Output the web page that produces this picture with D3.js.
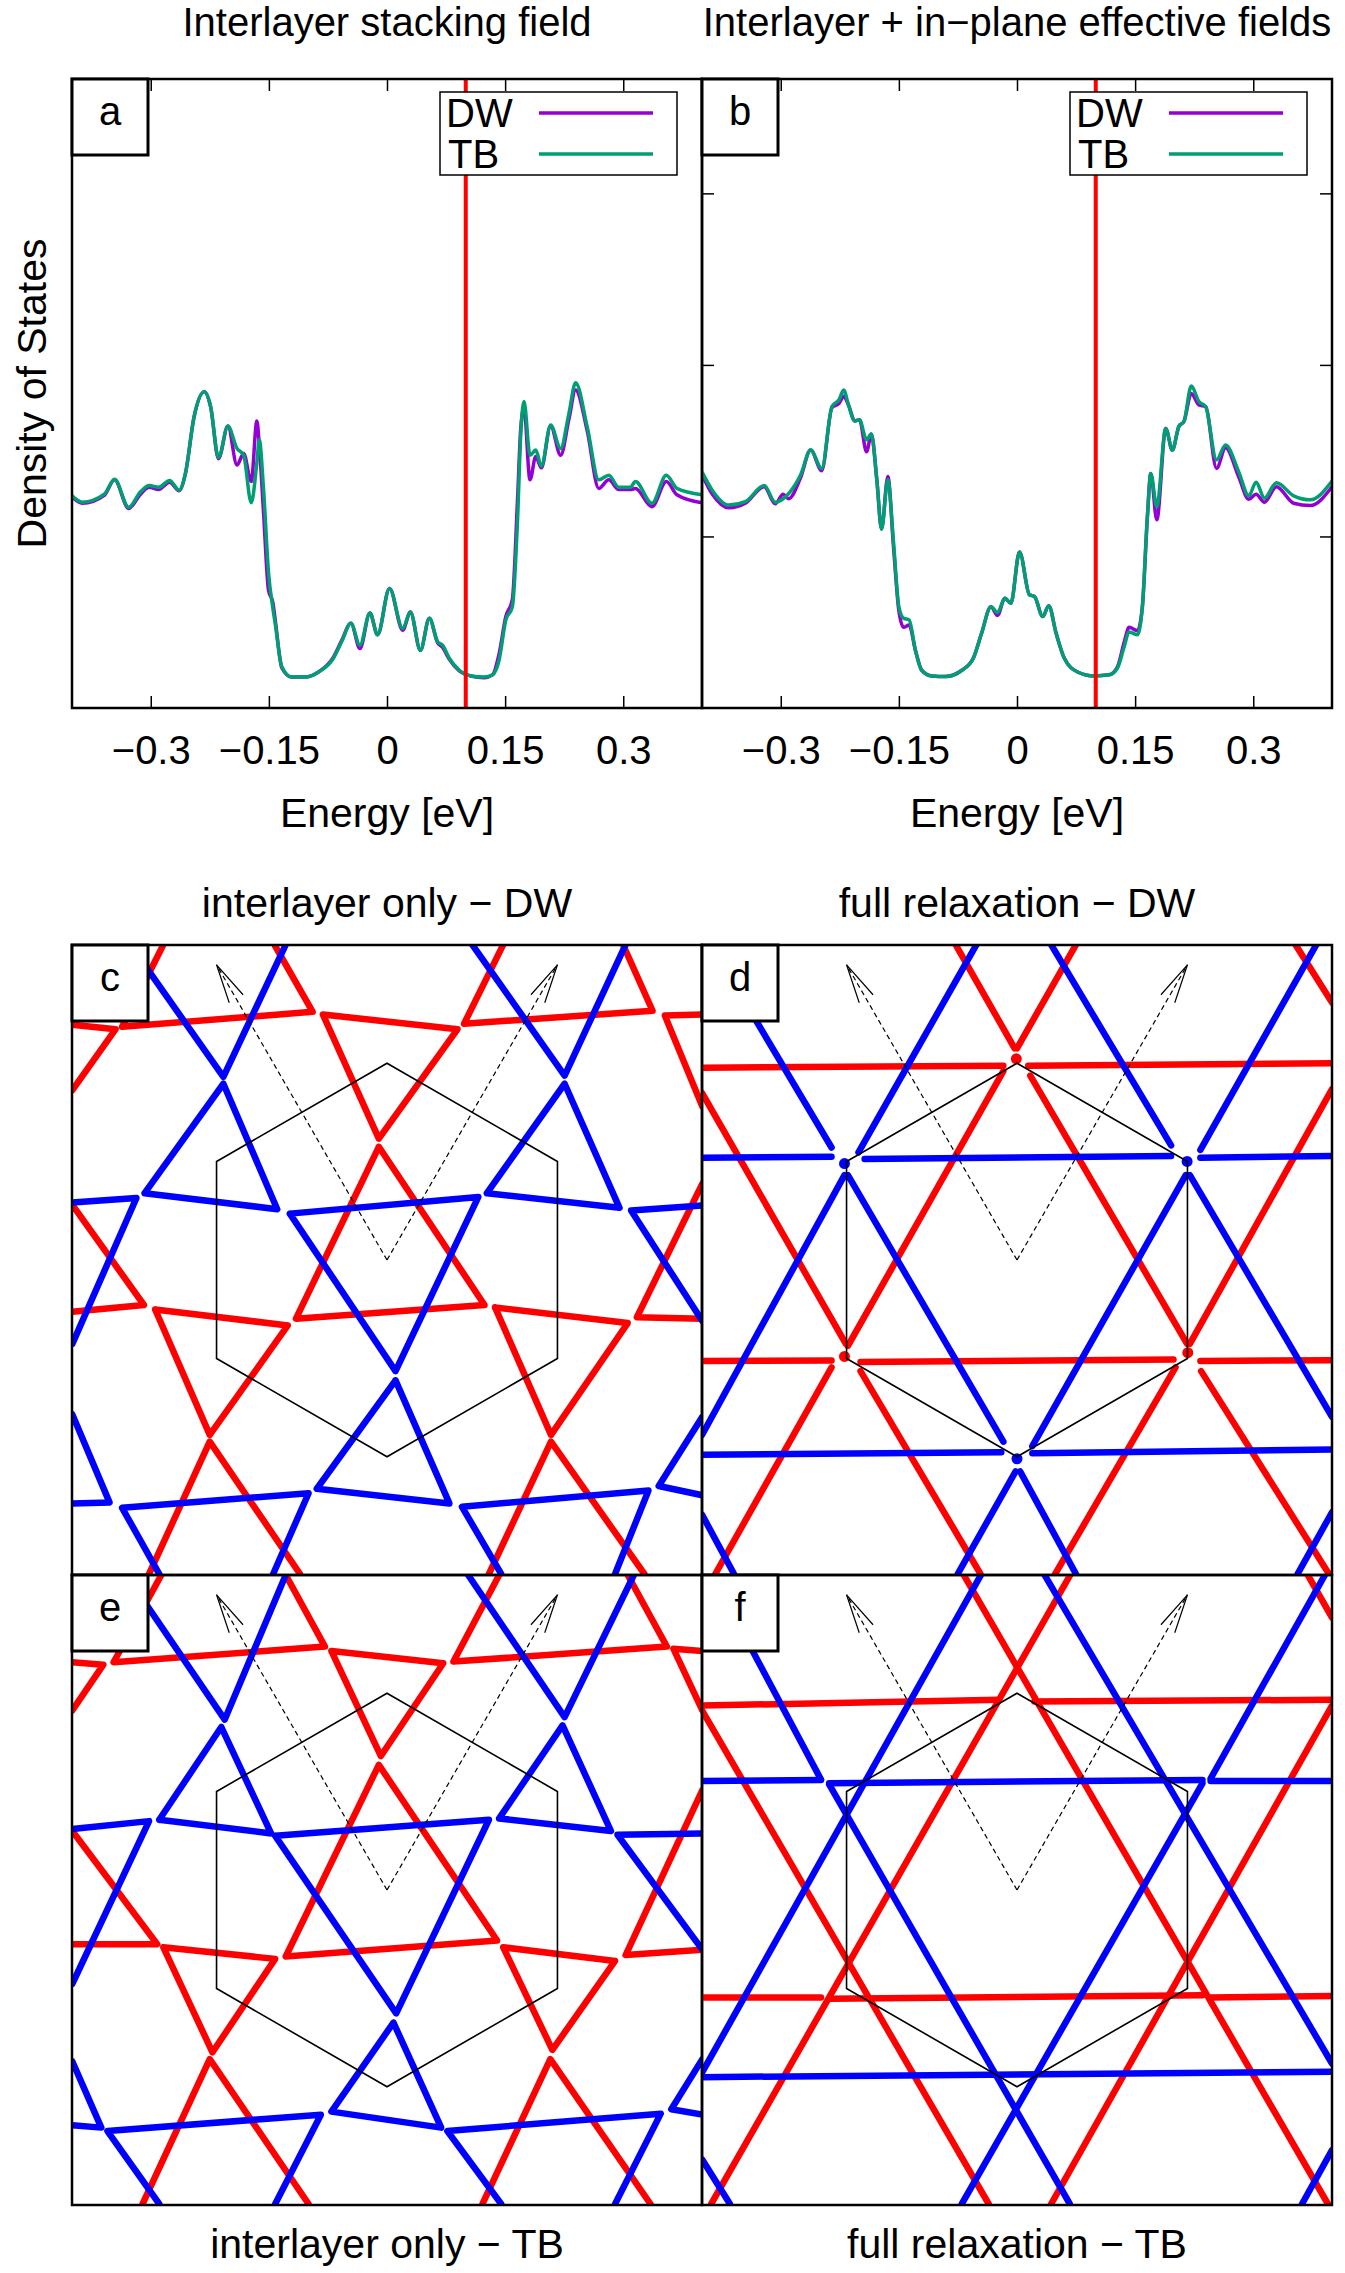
<!DOCTYPE html>
<html>
<head>
<meta charset="utf-8">
<script src="https://cdn.jsdelivr.net/npm/d3@7"></script>
<style>
  body { margin: 0; background: #fff; }
  svg { display: block; }
</style>
</head>
<body>
<div id="figure"></div>
<script>

///////////////////////////////////////////////////////////////////
// Data: density of states (arbitrary units) vs energy [eV]
///////////////////////////////////////////////////////////////////

const energyTicks = [-0.3, -0.15, 0, 0.15, 0.3];
const dosTicks = [3, 6, 9];
const fermiEnergy = 0.1;

// panel a: interlayer stacking field
const energyA = [-0.400, -0.387, -0.359, -0.346, -0.328, -0.313, -0.302, -0.290, -0.276, -0.264,
                 -0.256, -0.245, -0.232, -0.224, -0.214, -0.202, -0.1905, -0.182, -0.1724, -0.1652,
                 -0.1622, -0.1567, -0.1504, -0.145, -0.142, -0.1335, -0.121, -0.104, -0.087, -0.068,
                 -0.0576, -0.0458, -0.0344, -0.0217, -0.012, 0.0032, 0.020, 0.0297, 0.0424, 0.0538,
                 0.0643, 0.0706, 0.0791, 0.0918, 0.1066, 0.1234, 0.134, 0.1424, 0.1509, 0.1592,
                 0.1656, 0.1699, 0.174, 0.1816, 0.1889, 0.196, 0.2078, 0.2205, 0.231, 0.2395,
                 0.2542, 0.269, 0.2816, 0.2943, 0.3091, 0.3154, 0.3365, 0.3547, 0.3681, 0.400];
const tbA = [3.71, 3.60, 3.74, 4.00, 3.51, 3.78, 3.89, 3.86, 3.98, 3.81,
             4.10, 5.09, 5.53, 5.27, 4.38, 4.93, 4.54, 4.42, 3.59, 4.30,
             4.69, 3.81, 2.36, 1.75, 1.48, 0.72, 0.54, 0.54, 0.63, 0.87,
             1.16, 1.48, 1.10, 1.66, 1.28, 2.09, 1.39, 1.68, 1.01, 1.57,
             1.16, 1.10, 0.87, 0.66, 0.56, 0.54, 0.58, 0.84, 1.54, 1.77,
             3.23, 4.80, 5.36, 4.42, 4.51, 4.23, 4.95, 4.54, 5.15, 5.69,
             4.92, 3.99, 4.07, 3.86, 3.86, 3.96, 3.58, 4.07, 3.84, 3.73];
const dwA = [3.69, 3.58, 3.72, 3.99, 3.49, 3.74, 3.86, 3.82, 3.95, 3.80,
             4.10, 5.09, 5.53, 5.27, 4.36, 4.93, 4.25, 4.45, 3.96, 5.02,
             4.60, 3.40, 2.05, 1.85, 1.55, 0.70, 0.54, 0.54, 0.63, 0.89,
             1.18, 1.48, 1.04, 1.66, 1.28, 2.09, 1.36, 1.68, 1.01, 1.57,
             1.14, 1.06, 0.85, 0.65, 0.56, 0.53, 0.58, 0.95, 1.60, 1.90,
             3.60, 4.90, 5.25, 3.99, 4.40, 4.20, 4.93, 4.42, 5.05, 5.56,
             4.85, 3.84, 3.99, 3.82, 3.82, 3.84, 3.52, 3.96, 3.73, 3.59];

// panel b: interlayer + in-plane effective fields
const energyB = [-0.400, -0.387, -0.366, -0.345, -0.321, -0.307, -0.297, -0.290, -0.275, -0.262,
                 -0.248, -0.235, -0.226, -0.220, -0.214, -0.206, -0.200, -0.191, -0.185, -0.178,
                 -0.172, -0.164, -0.157, -0.150, -0.144, -0.137, -0.129, -0.121, -0.108, -0.091,
                 -0.070, -0.0555, -0.0449, -0.0331, -0.0247, -0.0154, -0.0078, 0.0032, 0.0158, 0.0222,
                 0.0327, 0.0403, 0.0496, 0.0601, 0.077, 0.0981, 0.1171, 0.1276, 0.1361, 0.1424,
                 0.1529, 0.1592, 0.1656, 0.1699, 0.1775, 0.1889, 0.1972, 0.2057, 0.212, 0.2213,
                 0.231, 0.2395, 0.2534, 0.2648, 0.2816, 0.2943, 0.3036, 0.3142, 0.3294, 0.3513,
                 0.3724, 0.400];
const tbB = [4.13, 3.81, 3.55, 3.61, 3.89, 3.60, 3.66, 3.75, 4.07, 4.51,
             4.19, 5.27, 5.39, 5.56, 5.30, 5.02, 5.04, 4.69, 4.79, 3.99,
             3.13, 3.99, 2.94, 1.77, 1.57, 1.54, 1.01, 0.66, 0.56, 0.55,
             0.66, 0.87, 1.31, 1.77, 1.67, 1.92, 1.83, 2.73, 1.98, 1.95,
             1.60, 1.79, 1.31, 0.87, 0.63, 0.56, 0.58, 0.70, 1.07, 1.33,
             1.28, 1.77, 3.35, 4.10, 3.52, 4.89, 4.51, 4.93, 5.01, 5.63,
             5.36, 5.27, 4.34, 4.60, 4.13, 3.71, 3.95, 3.67, 3.94, 3.71,
             3.64, 3.97];
const dwB = [4.08, 3.74, 3.50, 3.58, 3.87, 3.57, 3.74, 3.66, 4.02, 4.51,
             4.15, 5.25, 5.33, 5.45, 5.30, 5.02, 5.04, 4.48, 4.79, 3.99,
             3.13, 4.05, 2.85, 1.70, 1.41, 1.45, 1.01, 0.66, 0.56, 0.55,
             0.66, 0.87, 1.31, 1.77, 1.62, 1.92, 1.83, 2.73, 1.98, 1.95,
             1.60, 1.79, 1.31, 0.87, 0.63, 0.56, 0.58, 0.72, 1.15, 1.41,
             1.35, 1.77, 3.35, 4.10, 3.29, 4.89, 4.51, 4.93, 5.01, 5.50,
             5.30, 5.27, 4.19, 4.55, 4.04, 3.65, 3.74, 3.60, 3.87, 3.58,
             3.54, 3.87];

///////////////////////////////////////////////////////////////////
// Data: domain wall maps, in moire lattice units (cell centre = 0)
///////////////////////////////////////////////////////////////////

const latticeVectors = [[-0.5, 0.866], [0.5, 0.866]];
const cellCorners = [[0, 0.577], [0.5, 0.289], [0.5, -0.289], [0, -0.577], [-0.5, -0.289], [-0.5, 0.289]];

// c: interlayer only - DW
const redWallsC = [
  [[-0.923, 0.690], [-0.796, 0.677], [-0.923, 0.498]],
  [[-0.658, 0.921], [-0.777, 0.684], [-0.218, 0.728], [-0.328, 0.921]],
  [[-0.188, 0.720], [0.207, 0.677], [-0.024, 0.356], [-0.188, 0.720]],
  [[-0.024, 0.332], [-0.267, -0.172], [0.286, -0.132], [-0.024, 0.332]],
  [[0.341, 0.925], [0.226, 0.693], [0.779, 0.731], [0.694, 0.921]],
  [[0.925, 0.720], [0.815, 0.717], [0.925, 0.450]],
  [[-0.923, 0.162], [-0.713, -0.132], [-0.923, -0.152]],
  [[-0.680, -0.145], [-0.291, -0.192], [-0.520, -0.513], [-0.680, -0.145]],
  [[-0.698, -0.921], [-0.520, -0.533], [-0.255, -0.921]],
  [[0.317, -0.139], [0.706, -0.185], [0.481, -0.513], [0.317, -0.139]],
  [[0.299, -0.921], [0.481, -0.533], [0.755, -0.921]],
  [[0.925, 0.224], [0.733, -0.168], [0.925, -0.172]]
];
const blueWallsC = [
  [[-0.753, 0.925], [-0.480, 0.537], [-0.297, 0.925]],
  [[-0.711, 0.196], [-0.480, 0.517], [-0.322, 0.149], [-0.711, 0.196]],
  [[-0.285, 0.136], [0.268, 0.185], [0.025, -0.326], [-0.285, 0.136]],
  [[0.025, -0.353], [-0.206, -0.671], [0.183, -0.714], [0.025, -0.353]],
  [[0.250, 0.925], [0.521, 0.541], [0.700, 0.925]],
  [[0.293, 0.196], [0.521, 0.517], [0.682, 0.153], [0.293, 0.196]],
  [[0.925, 0.160], [0.716, 0.145], [0.925, -0.179]],
  [[-0.923, 0.169], [-0.735, 0.182], [-0.923, -0.246]],
  [[-0.923, -0.453], [-0.814, -0.711], [-0.923, -0.714]],
  [[-0.668, -0.921], [-0.777, -0.727], [-0.230, -0.684], [-0.334, -0.921]],
  [[0.335, -0.921], [0.220, -0.724], [0.767, -0.676], [0.669, -0.921]],
  [[0.925, -0.460], [0.797, -0.663], [0.925, -0.690]]
];

// d: full relaxation - DW
const redWallsD = [
  [[-0.924, 0.564], [-0.040, 0.570]],
  [[0.033, 0.570], [0.924, 0.577]],
  [[-0.924, -0.296], [-0.544, -0.295]],
  [[-0.459, -0.299], [0.459, -0.292]],
  [[0.538, -0.296], [0.924, -0.294]],
  [[-0.180, 0.925], [-0.007, 0.621]],
  [[0.039, 0.541], [0.499, -0.246]],
  [[0.540, -0.326], [0.915, -0.921]],
  [[-0.924, 0.490], [-0.502, -0.246]],
  [[-0.459, -0.326], [-0.107, -0.921]],
  [[0.817, 0.925], [0.924, 0.755]],
  [[0.173, 0.925], [0.000, 0.621]],
  [[-0.040, 0.554], [-0.496, -0.252]],
  [[-0.544, -0.315], [-0.885, -0.921]],
  [[0.924, 0.501], [0.507, -0.246]],
  [[0.465, -0.315], [0.112, -0.921]]
];
const blueWallsD = [
  [[-0.924, 0.300], [-0.544, 0.303]],
  [[-0.447, 0.296], [0.452, 0.305]],
  [[0.538, 0.300], [0.924, 0.305]],
  [[-0.924, -0.571], [-0.046, -0.564]],
  [[0.045, -0.567], [0.924, -0.556]],
  [[-0.898, 0.925], [-0.544, 0.330]],
  [[-0.496, 0.249], [-0.040, -0.533]],
  [[0.009, -0.620], [0.173, -0.921]],
  [[0.100, 0.925], [0.452, 0.336]],
  [[0.507, 0.249], [0.924, -0.460]],
  [[-0.924, -0.747], [-0.830, -0.921]],
  [[-0.119, 0.925], [-0.465, 0.316]],
  [[-0.506, 0.249], [-0.924, -0.513]],
  [[0.878, 0.925], [0.538, 0.323]],
  [[0.495, 0.249], [0.045, -0.546]],
  [[-0.004, -0.620], [-0.174, -0.921]],
  [[0.924, -0.740], [0.823, -0.921]]
];
const redNodesD = [[-0.002, 0.590], [-0.506, -0.283], [0.501, -0.272]];
const blueNodesD = [[-0.506, 0.283], [0.499, 0.289], [0.000, -0.583]];

// e: interlayer only - TB
const redWallsE = [
  [[-0.923, 0.668], [-0.832, 0.661], [-0.923, 0.527]],
  [[-0.662, 0.924], [-0.802, 0.668], [-0.182, 0.714], [-0.297, 0.924]],
  [[-0.163, 0.701], [0.165, 0.665], [-0.018, 0.393], [-0.163, 0.701]],
  [[-0.024, 0.367], [-0.297, -0.195], [0.323, -0.148], [-0.024, 0.367]],
  [[0.329, 0.924], [0.195, 0.670], [0.821, 0.714], [0.706, 0.924]],
  [[0.925, 0.701], [0.840, 0.708], [0.925, 0.527]],
  [[-0.923, 0.173], [-0.674, -0.159], [-0.923, -0.159]],
  [[-0.656, -0.168], [-0.328, -0.202], [-0.512, -0.476], [-0.656, -0.168]],
  [[-0.717, -0.921], [-0.520, -0.496], [-0.230, -0.921]],
  [[0.341, -0.168], [0.669, -0.208], [0.485, -0.469], [0.341, -0.168]],
  [[0.280, -0.921], [0.479, -0.496], [0.773, -0.921]],
  [[0.925, 0.293], [0.700, -0.191], [0.925, -0.175]]
];
const blueWallsE = [
  [[-0.765, 0.924], [-0.476, 0.500], [-0.297, 0.924]],
  [[-0.668, 0.206], [-0.486, 0.478], [-0.340, 0.166], [-0.668, 0.206]],
  [[-0.923, 0.179], [-0.698, 0.202], [-0.923, -0.275]],
  [[-0.328, 0.159], [0.299, 0.206], [0.027, -0.362], [-0.328, 0.159]],
  [[0.019, -0.389], [-0.163, -0.650], [0.159, -0.697], [0.019, -0.389]],
  [[0.238, 0.924], [0.521, 0.507], [0.724, 0.924]],
  [[0.329, 0.210], [0.515, 0.483], [0.657, 0.173], [0.329, 0.210]],
  [[0.925, 0.166], [0.676, 0.162], [0.925, -0.175]],
  [[-0.923, -0.503], [-0.838, -0.697], [-0.923, -0.690]],
  [[-0.668, -0.921], [-0.820, -0.707], [-0.194, -0.659], [-0.328, -0.921]],
  [[0.335, -0.921], [0.177, -0.707], [0.803, -0.656], [0.669, -0.921]],
  [[0.925, -0.496], [0.834, -0.643], [0.925, -0.659]]
];

// f: full relaxation - TB
const redWallsF = [
  [[-0.924, 0.541], [-0.052, 0.558]],
  [[0.051, 0.553], [0.924, 0.558]],
  [[-0.924, -0.315], [-0.575, -0.315]],
  [[-0.551, -0.319], [0.544, -0.309]],
  [[0.568, -0.315], [0.924, -0.311]],
  [[-0.924, 0.527], [-0.083, -0.921]],
  [[-0.155, 0.922], [0.912, -0.921]],
  [[0.854, 0.922], [0.924, 0.799]],
  [[0.155, 0.922], [-0.897, -0.921]],
  [[0.924, 0.541], [0.100, -0.921]]
];
const blueWallsF = [
  [[-0.924, 0.320], [-0.575, 0.323]],
  [[-0.551, 0.313], [0.544, 0.323]],
  [[0.568, 0.320], [0.924, 0.320]],
  [[-0.924, -0.549], [0.924, -0.533]],
  [[-0.893, 0.922], [-0.575, 0.324]],
  [[-0.551, 0.310], [0.155, -0.921]],
  [[0.082, 0.922], [0.924, -0.509]],
  [[-0.924, -0.790], [-0.842, -0.921]],
  [[-0.924, -0.536], [-0.107, 0.922]],
  [[0.902, 0.922], [0.568, 0.327]],
  [[0.544, 0.313], [-0.162, -0.921]],
  [[0.924, -0.763], [0.836, -0.921]]
];

///////////////////////////////////////////////////////////////////
// Canvas
///////////////////////////////////////////////////////////////////

const width = 1345, height = 2273;
const FONT = '"Liberation Sans", Arial, Helvetica, sans-serif';
const panelSize = 630;

const svg = d3.select("#figure")
    .append("svg")
    .attr("width", width)
    .attr("height", height)
    .style("font-family", FONT);

// small square letter box in a panel corner
function labelBox(g, left, top, letter) {
    g.append("rect")
        .attr("x", left).attr("y", top)
        .attr("width", 76).attr("height", 76)
        .attr("fill", "#fff")
        .attr("stroke", "#000")
        .attr("stroke-width", 3);
    g.append("text")
        .attr("x", left + 38).attr("y", top + 46)
        .attr("text-anchor", "middle")
        .style("font-size", "40px")
        .text(letter);
}

///////////////////////////////////////////////////////////////////
// DOS panels (a, b)
///////////////////////////////////////////////////////////////////

const dosTop = 79, dosBottom = 708;
const minusFormat = d => d < 0 ? "\u2212" + Math.abs(d) : String(d);

const dosPanels = [
    { left: 72, energy: energyA, dw: dwA, tb: tbA, label: "a", title: "Interlayer stacking field", yTicks: false },
    { left: 702, energy: energyB, dw: dwB, tb: tbB, label: "b", title: "Interlayer + in\u2212plane effective fields", yTicks: true }
];

dosPanels.forEach(p => {
    const x = d3.scaleLinear().domain([-0.4, 0.4]).range([p.left, p.left + panelSize]);
    const y = d3.scaleLinear().domain([0, 11]).range([dosBottom, dosTop]);
    const g = svg.append("g");

    const clipId = "clip-" + p.label;
    g.append("clipPath").attr("id", clipId)
        .append("rect")
        .attr("x", p.left).attr("y", dosTop)
        .attr("width", panelSize).attr("height", dosBottom - dosTop);

    const line = d3.line()
        .x(d => x(d[0]))
        .y(d => y(d[1]))
        .curve(d3.curveMonotoneX);

    const plot = g.append("g").attr("clip-path", `url(#${clipId})`);

    plot.append("path")
        .datum(d3.zip(p.energy, p.dw))
        .attr("d", line)
        .attr("fill", "none")
        .attr("stroke", "#9400d3")
        .attr("stroke-width", 3.5)
        .attr("stroke-linejoin", "round");

    plot.append("path")
        .datum(d3.zip(p.energy, p.tb))
        .attr("d", line)
        .attr("fill", "none")
        .attr("stroke", "#009e73")
        .attr("stroke-width", 3.5)
        .attr("stroke-linejoin", "round");

    // Fermi level marker
    plot.append("line")
        .attr("x1", x(fermiEnergy)).attr("x2", x(fermiEnergy))
        .attr("y1", dosTop).attr("y2", dosBottom)
        .attr("stroke", "#ff0000")
        .attr("stroke-width", 4);

    // Legend
    const lx = p.left + 368;
    g.append("rect")
        .attr("x", lx).attr("y", 92)
        .attr("width", 237).attr("height", 83)
        .attr("fill", "#fff")
        .attr("stroke", "#000")
        .attr("stroke-width", 1.5);
    [["DW", "#9400d3", 127, 0], ["TB", "#009e73", 168, 2]].forEach(([name, color, base, dx]) => {
        g.append("text")
            .attr("x", lx + 6 + dx).attr("y", base)
            .style("font-size", "40px")
            .text(name);
        g.append("line")
            .attr("x1", p.left + 467).attr("x2", p.left + 581)
            .attr("y1", base - 14).attr("y2", base - 14)
            .attr("stroke", color)
            .attr("stroke-width", 3.5);
    });

    // Axes (ticks inside the frame)
    const styleAxis = a => {
        a.select(".domain").remove();
        a.selectAll(".tick line").attr("stroke-width", 1.5);
        a.attr("font-family", FONT).attr("font-size", 40);
    };

    g.append("g")
        .attr("transform", `translate(0,${dosBottom})`)
        .call(d3.axisBottom(x).tickValues(energyTicks).tickSize(-12).tickPadding(28).tickFormat(minusFormat))
        .call(styleAxis);

    g.append("g")
        .attr("transform", `translate(0,${dosTop})`)
        .call(d3.axisTop(x).tickValues(energyTicks).tickSize(-12).tickFormat(""))
        .call(styleAxis);

    if (p.yTicks) {
        g.append("g")
            .attr("transform", `translate(${p.left},0)`)
            .call(d3.axisLeft(y).tickValues(dosTicks).tickSize(-12).tickFormat(""))
            .call(styleAxis);
        g.append("g")
            .attr("transform", `translate(${p.left + panelSize},0)`)
            .call(d3.axisRight(y).tickValues(dosTicks).tickSize(-12).tickFormat(""))
            .call(styleAxis);
    }

    // Frame
    g.append("rect")
        .attr("x", p.left).attr("y", dosTop)
        .attr("width", panelSize).attr("height", dosBottom - dosTop)
        .attr("fill", "none")
        .attr("stroke", "#000")
        .attr("stroke-width", 2.5);

    labelBox(g, p.left, dosTop, p.label);

    g.append("text")
        .attr("x", p.left + panelSize / 2).attr("y", 36)
        .attr("text-anchor", "middle")
        .style("font-size", "40px")
        .text(p.title);

    g.append("text")
        .attr("x", p.left + panelSize / 2).attr("y", 827)
        .attr("text-anchor", "middle")
        .style("font-size", "41px")
        .text("Energy [eV]");
});

svg.append("text")
    .attr("transform", `translate(46,${(dosTop + dosBottom) / 2}) rotate(-90)`)
    .attr("text-anchor", "middle")
    .style("font-size", "41px")
    .text("Density of States");

///////////////////////////////////////////////////////////////////
// Domain wall maps (c - f)
///////////////////////////////////////////////////////////////////

const mapPanels = [
    { left: 72, top: 945, red: redWallsC, blue: blueWallsC, label: "c", title: "interlayer only \u2212 DW", titleY: 917 },
    { left: 702, top: 945, red: redWallsD, blue: blueWallsD, redNodes: redNodesD, blueNodes: blueNodesD,
      label: "d", title: "full relaxation \u2212 DW", titleY: 917 },
    { left: 72, top: 1575, red: redWallsE, blue: blueWallsE, label: "e", title: "interlayer only \u2212 TB", titleY: 2258 },
    { left: 702, top: 1575, red: redWallsF, blue: blueWallsF, label: "f", title: "full relaxation \u2212 TB", titleY: 2258 }
];

mapPanels.forEach(p => {
    const mx = d3.scaleLinear().domain([-0.924, 0.924]).range([p.left, p.left + panelSize]);
    const my = d3.scaleLinear().domain([-0.924, 0.924]).range([p.top + panelSize, p.top]);
    const g = svg.append("g");

    const clipId = "clip-" + p.label;
    g.append("clipPath").attr("id", clipId)
        .append("rect")
        .attr("x", p.left).attr("y", p.top)
        .attr("width", panelSize).attr("height", panelSize);

    const plot = g.append("g").attr("clip-path", `url(#${clipId})`);
    const wall = d3.line().x(d => mx(d[0])).y(d => my(d[1]));

    [[p.red, "#ff0000", p.redNodes], [p.blue, "#0000ff", p.blueNodes]].forEach(([walls, color, nodes]) => {
        plot.selectAll(null)
            .data(walls)
            .enter().append("path")
            .attr("d", wall)
            .attr("fill", "none")
            .attr("stroke", color)
            .attr("stroke-width", 6.5)
            .attr("stroke-linecap", "round")
            .attr("stroke-linejoin", "round");
        if (nodes) {
            plot.selectAll(null)
                .data(nodes)
                .enter().append("circle")
                .attr("cx", d => mx(d[0]))
                .attr("cy", d => my(d[1]))
                .attr("r", 5.5)
                .attr("fill", color);
        }
    });

    // moire unit cell
    plot.append("path")
        .datum(cellCorners)
        .attr("d", d3.line().x(d => mx(d[0])).y(d => my(d[1])).curve(d3.curveLinearClosed))
        .attr("fill", "none")
        .attr("stroke", "#000")
        .attr("stroke-width", 1.6);

    // lattice vectors as dashed arrows with open heads
    const ox = mx(0), oy = my(0);
    latticeVectors.forEach(v => {
        const tx = mx(v[0]), ty = my(v[1]);
        plot.append("line")
            .attr("x1", ox).attr("y1", oy)
            .attr("x2", tx).attr("y2", ty)
            .attr("stroke", "#000")
            .attr("stroke-width", 1.2)
            .attr("stroke-dasharray", "5,3.5");
        const len = Math.hypot(ox - tx, oy - ty);
        const bx = (ox - tx) / len, by = (oy - ty) / len;
        const head = [11.5, -11.5].map(deg => {
            const a = deg * Math.PI / 180;
            return [tx + 40 * (bx * Math.cos(a) - by * Math.sin(a)),
                    ty + 40 * (bx * Math.sin(a) + by * Math.cos(a))];
        });
        plot.append("path")
            .attr("d", `M${head[0]}L${tx},${ty}L${head[1]}`)
            .attr("fill", "none")
            .attr("stroke", "#000")
            .attr("stroke-width", 1.2);
    });

    g.append("rect")
        .attr("x", p.left).attr("y", p.top)
        .attr("width", panelSize).attr("height", panelSize)
        .attr("fill", "none")
        .attr("stroke", "#000")
        .attr("stroke-width", 2.5);

    labelBox(g, p.left, p.top, p.label);

    g.append("text")
        .attr("x", p.left + panelSize / 2).attr("y", p.titleY)
        .attr("text-anchor", "middle")
        .style("font-size", "41px")
        .text(p.title);
});

</script>
</body>
</html>
